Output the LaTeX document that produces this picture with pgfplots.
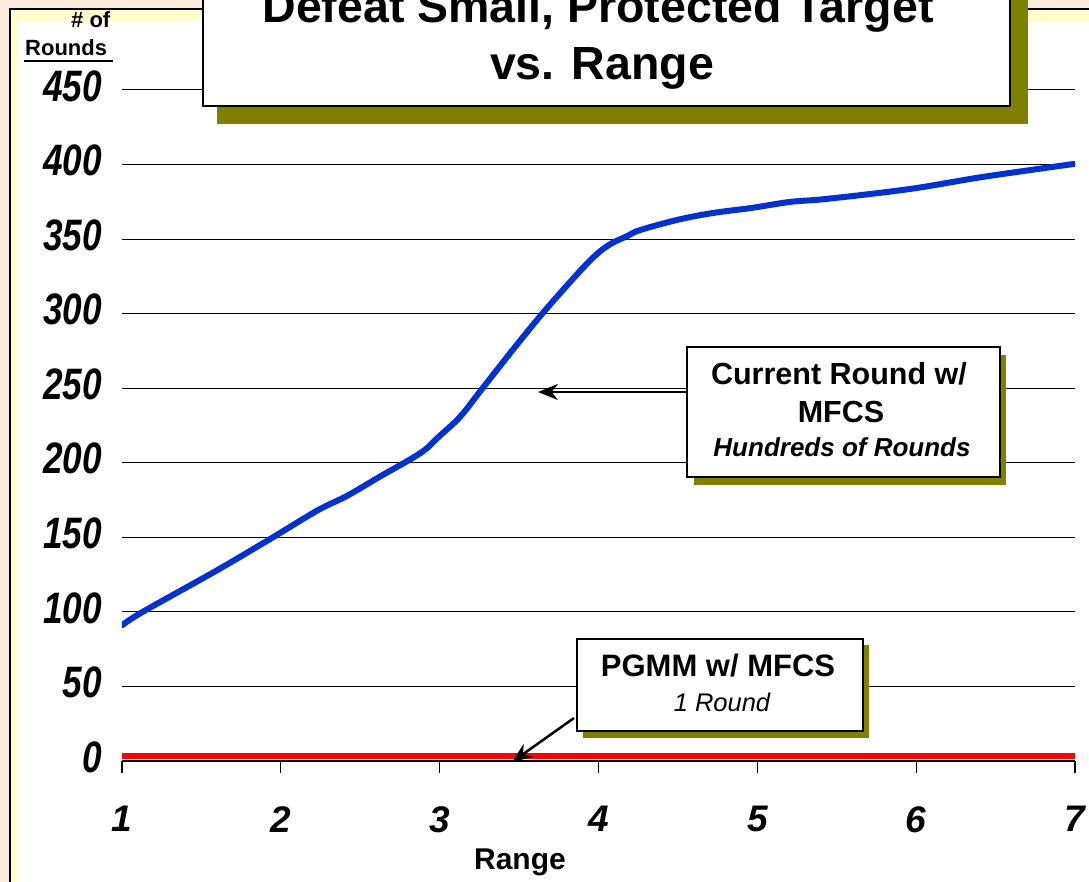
\documentclass[border=0pt]{standalone}
\usepackage{pgfplots}
\pgfplotsset{compat=1.18}
\usepackage{fontspec}
\setmainfont{Liberation Sans}
\newfontfamily\condfont[FakeStretch=0.8]{Liberation Sans}
\usetikzlibrary{arrows.meta}
\definecolor{beige}{RGB}{249,236,218}
\definecolor{paleyel}{RGB}{255,255,206}
\definecolor{shadow}{RGB}{128,128,0}
\definecolor{curveblue}{RGB}{0,50,210}
\newcommand\PP[2]{({#1-122},{761-#2})}
\begin{document}
\begin{tikzpicture}[x=1bp,y=1bp]
\useasboundingbox \PP{0}{0} rectangle \PP{1089}{882};
\begin{scope}
\clip \PP{0}{0} rectangle \PP{1089}{882};
\fill[beige] \PP{0}{0} rectangle \PP{1089}{882};
\fill[paleyel] \PP{10}{9} rectangle \PP{1100}{900};
\fill[white] \PP{17}{21} rectangle \PP{1100}{900};
\draw[black, line width=2bp] \PP{10}{900} -- \PP{10}{9} -- \PP{1100}{9};
\begin{axis}[
  at={(0,0)}, anchor=south west,
  scale only axis, width=953bp, height=671bp,
  xmin=1, xmax=7, ymin=0, ymax=450,
  enlargelimits=false,
  xtick={1,2,3,4,5,6,7},
  ytick={0,50,100,150,200,250,300,350,400,450},
  axis lines=left,
  axis line style={-},
  x axis line style={black, line width=1.5bp},
  y axis line style={draw=none},
  ytick style={draw=none},
  xtick style={black, line width=1.2bp},
  tick align=outside,
  major tick length=12bp,
  ymajorgrids,
  major grid style={black, line width=1bp},
  /pgf/number format/assume math mode=true,
  xticklabel style={font=\bfseries\itshape\fontsize{37bp}{37bp}\selectfont, anchor=north, inner sep=0pt, yshift=-33bp},
  yticklabel style={font=\condfont\bfseries\itshape\fontsize{44bp}{44bp}\selectfont, anchor=east, inner sep=0pt, xshift=-8bp, yshift=4bp},
  xlabel={Range},
  xlabel style={font=\bfseries\fontsize{30bp}{30bp}\selectfont, at={(axis description cs:0.4176,0)}, anchor=base, inner sep=0pt, yshift=-108bp},
]
\addplot[red, line width=6bp, line cap=butt] coordinates {(1,3.4) (7,3.4)};
\addplot[curveblue, line width=6bp, line cap=round, line join=round, smooth, tension=0.55] coordinates {
(1,91) (1.13,100) (1.6,128) (1.95,150) (2.23,168) (2.42,178) (2.62,190.5)
(2.88,206.6) (3.0,218) (3.13,231) (3.27,250) (3.46,275.7) (3.65,300.5) (3.87,327)
(3.99,340) (4.08,347) (4.18,352) (4.26,356) (4.5,363) (4.72,367.5) (4.97,371)
(5.21,375) (5.44,377) (5.96,383.6) (6.42,391.7) (7,400.5)};
\end{axis}
% y label
\node[font=\bfseries\fontsize{22bp}{22bp}\selectfont, anchor=base west, inner sep=0pt] at \PP{71}{28} {\# of};
\node[font=\bfseries\fontsize{22bp}{22bp}\selectfont, anchor=base west, inner sep=0pt] at \PP{25}{56} {Rounds};
\draw[black, line width=2bp] \PP{24}{61} -- \PP{113}{61};
% title box
\fill[shadow] \PP{217}{-50} rectangle \PP{1028}{124};
\filldraw[fill=white, draw=black, line width=2bp] \PP{203}{-50} rectangle \PP{1010}{106};
\node[font=\bfseries\fontsize{46.5bp}{46.5bp}\selectfont, anchor=base, inner sep=0pt] at \PP{598}{23} {Defeat Small, Protected Target};
\node[font=\bfseries\fontsize{46.5bp}{46.5bp}\selectfont, anchor=base, inner sep=0pt] at \PP{602}{80} {vs. Range};
% box 1
\fill[shadow] \PP{694}{355} rectangle \PP{1006}{485};
\filldraw[fill=white, draw=black, line width=2bp] \PP{687}{347} rectangle \PP{1000}{477};
\node[font=\bfseries\fontsize{30.5bp}{30.5bp}\selectfont, anchor=base, inner sep=0pt] at \PP{839}{385} {Current Round w/};
\node[font=\bfseries\fontsize{30.5bp}{30.5bp}\selectfont, anchor=base, inner sep=0pt] at \PP{841}{423} {MFCS};
\node[font=\bfseries\itshape\fontsize{26bp}{26bp}\selectfont, anchor=base, inner sep=0pt] at \PP{842}{457} {Hundreds of Rounds};
\draw[black, line width=2.5bp, -{Stealth[length=20bp,width=16bp]}] \PP{687}{392} -- \PP{538}{392};
% box 2
\fill[shadow] \PP{583}{645} rectangle \PP{869}{738};
\filldraw[fill=white, draw=black, line width=2bp] \PP{577}{639} rectangle \PP{863}{731};
\node[font=\bfseries\fontsize{31bp}{31bp}\selectfont, anchor=base, inner sep=0pt] at \PP{718}{677} {PGMM w/ MFCS};
\node[font=\itshape\fontsize{25.5bp}{25.5bp}\selectfont, anchor=base, inner sep=0pt] at \PP{722}{712} {1 Round};
\draw[black, line width=2.5bp, -{Stealth[length=20bp,width=16bp]}] \PP{574}{718} -- \PP{512}{762};
\end{scope}
\end{tikzpicture}
\end{document}
